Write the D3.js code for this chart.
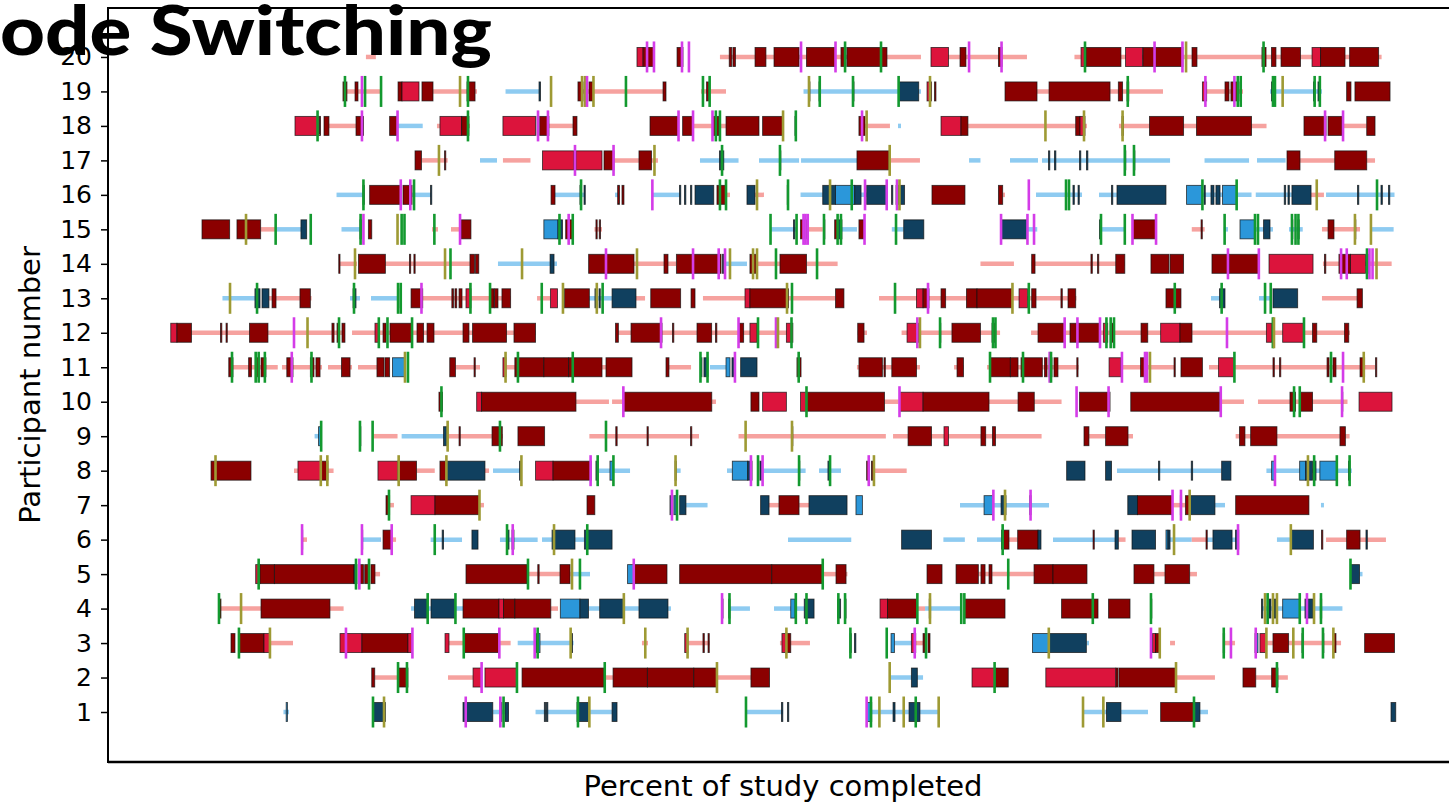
<!DOCTYPE html>
<html>
<head>
<meta charset="utf-8">
<script src="https://cdn.jsdelivr.net/npm/d3@7"></script>
<style>
  body { margin: 0; background: #fff; }
  svg { display: block; font-family: "DejaVu Sans", sans-serif; }
</style>
</head>
<body>
<svg id="chart" width="1449" height="804"></svg>
<script>
// ---- participants / axis text ----
const participants = d3.range(1, 21);
const tickLabels = participants.map(String);
const titleText = "ode Switching";
const xLabel = "Percent of study completed";
const yLabel = "Participant number";

// ---- colour keys ----
const trailColor = { r: "#f6a29f", b: "#8ecbf1" };
const blockColor = { R: "#8b0000", C: "#dc143c", N: "#10405f", S: "#2b97da" };
const markerColor = { g: "#13992f", o: "#9e9a34", m: "#d43ce8" };

// ---- travel trails: [participant, start %, end %, mode] ----
const trails = [
  [1,9.15,9.6,"b"],[1,26.03,27.3,"b"],[1,29.48,35.65,"b"],[1,46.45,49.44,"b"],[1,56.59,61.94,"b"],[1,73.63,78.87,"b"],[1,82.58,83.71,"b"],
  [2,16.51,18.39,"r"],[2,22.42,24.44,"r"],[2,35.0,35.73,"r"],[2,44.11,46.85,"r"],[2,58.04,60.73,"b"],[2,81.13,84.27,"r"],[2,87.56,90.15,"r"],
  [3,8.06,9.92,"r"],[3,22.5,23.69,"r"],[3,26.53,27.47,"r"],[3,28.04,32.55,"b"],[3,38.06,38.55,"r"],[3,41.77,43.52,"r"],[3,49.19,51.61,"r"],[3,58.42,59.84,"b"],[3,60.14,60.73,"r"],[3,73.9,74.11,"b"],[3,80.65,81.05,"r"],[3,84.98,85.89,"r"],[3,88.42,94.44,"r"],
  [4,4.07,7.34,"r"],[4,12.9,14.0,"r"],[4,19.44,23.63,"b"],[4,30.71,31.29,"r"],[4,33.75,37.82,"b"],[4,40.16,40.4,"b"],[4,45.12,46.77,"b"],[4,48.71,51.15,"b"],[4,60.27,60.89,"r"],[4,60.89,63.79,"b"],[4,88.06,94.55,"b"],
  [5,16.53,16.94,"r"],[5,28.79,32.31,"r"],[5,32.42,33.87,"b"],[5,52.64,54.63,"r"],[5,65.19,69.68,"r"],[5,79.35,80.24,"r"],[5,82.23,82.82,"r"],[5,95.93,96.17,"b"],
  [6,10.65,11.05,"r"],[6,15.48,17.02,"b"],[6,17.88,18.23,"r"],[6,21.02,23.55,"b"],[6,26.61,29.65,"b"],[6,30.0,30.81,"b"],[6,32.66,33.42,"b"],[6,49.84,54.94,"b"],[6,62.37,64.1,"b"],[6,65.08,67.1,"b"],[6,67.66,68.36,"r"],[6,71.21,76.37,"b"],[6,76.48,77.06,"r"],[6,80.48,82.4,"b"],[6,82.4,83.6,"r"],[6,83.6,86.19,"b"],[6,89.27,90.32,"b"],[6,93.23,98.06,"r"],
  [7,17.71,18.06,"r"],[7,24.96,25.32,"r"],[7,41.61,43.35,"b"],[7,48.31,49.11,"r"],[7,50.73,51.53,"r"],[7,63.71,70.89,"b"],[7,80.85,81.89,"r"],[7,84.27,85.08,"b"],[7,92.82,93.06,"b"],
  [8,10.0,13.19,"r"],[8,19.88,21.35,"r"],[8,25.4,25.73,"r"],[8,26.05,28.23,"b"],[8,34.56,37.1,"b"],[8,40.77,41.18,"b"],[8,44.92,45.35,"b"],[8,47.58,51.26,"b"],[8,52.34,54.11,"b"],[8,56.69,59.41,"r"],[8,76.37,84.81,"b"],[8,88.42,95.31,"b"],
  [9,11.66,12.16,"b"],[9,16.34,18.35,"r"],[9,18.68,22.18,"b"],[9,22.39,26.85,"r"],[9,33.82,42.66,"r"],[9,45.85,57.73,"r"],[9,58.31,70.29,"r"],[9,74.11,77.66,"r"],[9,85.94,95.13,"r"],
  [10,32.74,35.4,"r"],[10,35.65,36.53,"r"],[10,43.69,44.03,"r"],[10,57.62,58.76,"r"],[10,66.05,71.9,"r"],[10,84.64,86.61,"r"],[10,87.74,94.96,"r"],
  [11,5.08,8.69,"r"],[11,9.03,12.26,"r"],[11,12.74,14.68,"r"],[11,15.16,17.26,"r"],[11,23.02,25.0,"r"],[11,26.94,37.26,"r"],[11,40.24,42.02,"r"],[11,43.55,45.0,"b"],[11,55.4,60.48,"r"],[11,63.23,63.99,"r"],[11,65.89,73.28,"r"],[11,75.73,81.02,"r"],[11,83.79,97.18,"r"],
  [12,0.56,14.11,"r"],[12,14.68,29.48,"r"],[12,36.13,50.23,"r"],[12,55.46,56.21,"r"],[12,59.0,66.94,"r"],[12,69.44,95.16,"r"],
  [13,4.23,6.85,"b"],[13,7.98,11.42,"r"],[13,14.52,15.32,"b"],[13,16.21,18.44,"b"],[13,20.38,27.47,"r"],[13,29.6,30.65,"r"],[13,33.79,35.65,"b"],[13,37.58,38.31,"r"],[13,42.98,53.67,"r"],[13,57.18,73.1,"r"],[13,83.95,84.81,"b"],[13,87.82,88.79,"b"],[13,92.9,95.81,"r"],
  [14,13.63,15.08,"r"],[14,17.34,24.19,"r"],[14,26.45,31.21,"b"],[14,37.42,40.81,"r"],[14,44.84,46.53,"b"],[14,47.26,49.19,"r"],[14,51.33,53.84,"r"],[14,65.36,68.06,"r"],[14,69.49,77.0,"r"],[14,92.98,98.52,"r"],
  [15,7.31,8.52,"r"],[15,8.52,10.92,"b"],[15,13.83,15.44,"b"],[15,21.13,21.61,"r"],[15,22.66,23.47,"r"],[15,34.23,34.84,"r"],[15,48.43,50.56,"b"],[15,51.33,52.64,"r"],[15,54.19,55.4,"b"],[15,58.21,59.17,"b"],[15,69.15,69.94,"b"],[15,75.0,77.06,"b"],[15,82.4,83.44,"r"],[15,84.98,85.32,"b"],[15,87.5,88.95,"b"],[15,90.24,91.35,"b"],[15,92.9,95.97,"r"],[15,96.85,98.68,"b"],
  [16,13.43,15.6,"b"],[16,19.52,21.05,"b"],[16,31.05,33.47,"b"],[16,35.89,36.13,"b"],[16,38.87,41.18,"b"],[16,44.84,45.16,"r"],[16,47.18,47.9,"r"],[16,50.85,57.5,"b"],[16,67.15,67.34,"r"],[16,69.84,73.55,"b"],[16,74.92,76.37,"b"],[16,82.9,87.22,"b"],[16,87.56,90.48,"b"],[16,92.02,93.06,"r"],[16,93.23,98.75,"b"],
  [17,20.28,22.39,"r"],[17,25.0,26.37,"b"],[17,26.85,29.07,"r"],[17,35.81,39.35,"r"],[17,42.74,45.85,"b"],[17,47.5,50.73,"b"],[17,50.89,55.4,"b"],[17,57.98,60.48,"r"],[17,64.44,65.36,"b"],[17,67.74,70.0,"b"],[17,70.32,80.65,"b"],[17,83.43,87.02,"b"],[17,87.66,89.97,"b"],[17,91.13,97.18,"r"],
  [18,12.82,15.0,"r"],[18,18.35,20.38,"b"],[18,21.53,24.19,"r"],[18,30.56,32.82,"r"],[18,42.2,44.84,"r"],[18,56.05,58.06,"r"],[18,58.71,58.95,"b"],[18,64.35,73.95,"r"],[18,76.53,88.43,"r"],[18,94.52,96.51,"r"],
  [19,14.27,16.94,"r"],[19,21.21,24.76,"r"],[19,27.06,29.81,"b"],[19,32.9,39.84,"r"],[19,42.82,44.84,"r"],[19,51.09,60.56,"b"],[19,69.92,80.08,"r"],[19,83.47,86.53,"r"],[19,88.71,92.9,"b"],
  [20,15.8,16.6,"r"],[20,44.35,60.56,"r"],[20,61.37,69.11,"r"],[20,72.94,97.71,"r"]
];

// ---- activity blocks: [participant, start %, end %, kind] ----
const blocks = [
  [1,9.37,9.47,"S"],[1,16.37,17.37,"N"],[1,23.63,26.03,"N"],[1,26.61,26.77,"N"],[1,27.02,27.3,"N"],[1,30.19,30.29,"N"],[1,30.36,30.47,"N"],[1,32.82,33.82,"N"],[1,35.65,36.05,"N"],[1,49.31,49.42,"N"],[1,49.8,49.9,"N"],[1,56.18,56.59,"S"],[1,58.31,58.47,"N"],[1,59.6,60.48,"N"],[1,75.52,76.69,"N"],[1,79.89,82.58,"R"],[1,82.58,83.06,"N"],[1,98.47,98.85,"N"],
  [2,16.27,16.51,"R"],[2,18.39,19.19,"R"],[2,24.44,25.13,"C"],[2,25.4,27.98,"C"],[2,28.39,35.0,"R"],[2,35.73,38.5,"R"],[2,38.5,42.24,"R"],[2,42.24,44.11,"R"],[2,46.85,48.35,"R"],[2,59.79,60.27,"N"],[2,64.68,66.57,"C"],[2,66.57,67.6,"R"],[2,70.63,76.27,"C"],[2,76.29,76.45,"R"],[2,76.53,81.13,"R"],[2,86.53,87.56,"R"],[2,88.84,89.35,"R"],
  [3,4.92,5.24,"R"],[3,5.56,7.58,"R"],[3,7.58,8.06,"C"],[3,13.71,15.48,"C"],[3,15.48,19.19,"R"],[3,19.19,19.52,"C"],[3,22.18,22.5,"C"],[3,23.69,26.53,"R"],[3,29.41,29.56,"N"],[3,29.68,29.84,"S"],[3,32.3,32.46,"N"],[3,41.51,41.77,"C"],[3,42.98,43.09,"R"],[3,43.39,43.49,"R"],[3,49.35,49.68,"C"],[3,49.68,50.06,"R"],[3,54.84,54.94,"N"],[3,55.2,55.31,"N"],[3,58.15,58.42,"S"],[3,59.79,60.14,"C"],[3,60.73,60.89,"R"],[3,61.13,61.29,"R"],[3,69.56,70.87,"S"],[3,70.87,73.9,"N"],[3,79.23,79.48,"C"],[3,79.48,79.84,"R"],[3,84.94,85.05,"N"],[3,87.5,87.74,"S"],[3,87.9,88.42,"C"],[3,88.95,90.21,"R"],[3,91.29,91.4,"R"],[3,92.94,93.05,"N"],[3,93.79,94.03,"R"],[3,96.34,98.75,"R"],
  [4,4.03,4.11,"R"],[4,7.34,12.9,"R"],[4,19.72,20.77,"N"],[4,21.05,22.96,"N"],[4,23.63,26.53,"R"],[4,26.53,26.9,"C"],[4,26.9,27.81,"R"],[4,27.81,30.71,"R"],[4,31.48,33.06,"S"],[4,33.06,33.75,"N"],[4,34.65,36.66,"N"],[4,37.82,40.16,"N"],[4,44.48,44.6,"N"],[4,45.06,45.16,"N"],[4,50.06,50.4,"S"],[4,51.15,51.94,"N"],[4,53.84,54.08,"N"],[4,54.4,54.52,"N"],[4,57.26,57.86,"C"],[4,57.86,60.27,"R"],[4,61.23,61.34,"N"],[4,64.06,67.34,"R"],[4,71.9,74.84,"R"],[4,75.69,77.42,"R"],[4,79.07,79.18,"N"],[4,88.02,88.13,"N"],[4,88.63,88.79,"N"],[4,89.03,89.19,"N"],[4,89.73,91.1,"S"],[4,91.53,92.18,"N"],[4,92.77,92.88,"N"],
  [5,6.91,7.26,"C"],[5,7.26,8.42,"R"],[5,8.42,14.84,"R"],[5,14.84,15.08,"N"],[5,15.27,15.6,"R"],[5,15.7,16.1,"R"],[5,16.21,16.53,"R"],[5,23.87,28.79,"R"],[5,29.66,29.77,"R"],[5,31.45,32.26,"R"],[5,36.9,37.42,"S"],[5,37.42,40.08,"R"],[5,41.1,48.53,"R"],[5,48.53,52.64,"R"],[5,53.71,54.52,"R"],[5,61.05,62.26,"R"],[5,63.39,65.19,"R"],[5,65.4,65.73,"R"],[5,66.05,66.29,"R"],[5,69.68,71.21,"R"],[5,71.21,73.95,"R"],[5,77.74,79.35,"R"],[5,80.24,82.23,"R"],[5,95.2,95.93,"N"],
  [6,10.6,10.7,"R"],[6,15.44,15.54,"N"],[6,17.18,17.88,"R"],[6,21.95,22.06,"N"],[6,24.35,24.84,"N"],[6,27.14,27.34,"N"],[6,27.58,27.74,"N"],[6,30.81,32.66,"N"],[6,33.42,35.65,"N"],[6,59.0,61.41,"N"],[6,67.06,67.16,"N"],[6,67.15,67.66,"R"],[6,68.36,70.0,"R"],[6,70.0,70.24,"N"],[6,74.44,74.54,"R"],[6,76.21,76.48,"N"],[6,77.58,79.48,"N"],[6,80.32,80.48,"S"],[6,80.48,80.65,"N"],[6,83.55,83.65,"R"],[6,84.11,85.65,"N"],[6,85.93,86.19,"N"],[6,90.39,92.21,"N"],[6,92.86,92.97,"R"],[6,94.89,95.97,"R"],[6,96.45,96.56,"N"],
  [7,17.42,17.71,"R"],[7,19.44,21.37,"C"],[7,21.37,24.96,"R"],[7,33.63,34.26,"R"],[7,40.32,40.56,"N"],[7,40.65,40.81,"S"],[7,41.1,41.61,"N"],[7,47.63,48.31,"N"],[7,49.11,50.73,"R"],[7,51.53,54.6,"N"],[7,55.32,55.84,"S"],[7,65.65,66.4,"S"],[7,67.02,67.42,"N"],[7,69.34,69.44,"N"],[7,77.24,78.02,"N"],[7,78.02,80.85,"R"],[7,81.48,81.58,"N"],[7,81.89,82.3,"R"],[7,82.3,84.27,"N"],[7,85.94,91.85,"R"],
  [8,3.31,6.53,"R"],[8,10.32,12.16,"C"],[8,12.16,12.74,"R"],[8,16.77,18.39,"C"],[8,18.39,19.88,"R"],[8,21.77,22.29,"R"],[8,22.29,25.4,"N"],[8,28.19,28.29,"N"],[8,29.48,30.89,"C"],[8,30.89,33.98,"R"],[8,34.35,34.52,"N"],[8,35.48,35.76,"S"],[8,40.73,40.83,"N"],[8,45.35,46.59,"S"],[8,46.59,46.94,"N"],[8,47.38,47.48,"N"],[8,47.58,47.69,"N"],[8,50.69,50.79,"N"],[8,53.06,53.23,"N"],[8,56.18,56.37,"R"],[8,56.57,56.69,"R"],[8,72.31,73.79,"N"],[8,75.45,75.93,"N"],[8,79.72,79.82,"N"],[8,82.36,82.47,"N"],[8,84.81,85.56,"N"],[8,88.84,89.11,"S"],[8,91.1,91.59,"S"],[8,91.59,92.14,"N"],[8,92.3,92.42,"N"],[8,92.73,94.1,"S"],[8,95.04,95.15,"N"],
  [9,11.98,12.18,"S"],[9,15.28,15.39,"N"],[9,22.06,22.39,"N"],[9,23.31,23.41,"R"],[9,25.97,26.8,"R"],[9,28.06,30.21,"R"],[9,35.95,36.06,"R"],[9,38.47,38.57,"R"],[9,41.98,42.08,"R"],[9,50.12,50.23,"R"],[9,59.52,61.41,"R"],[9,62.42,62.78,"C"],[9,65.4,65.78,"R"],[9,66.33,66.57,"R"],[9,73.71,74.11,"R"],[9,75.45,77.26,"R"],[9,86.25,86.69,"R"],[9,87.15,89.27,"R"],[9,94.35,94.79,"R"],
  [10,21.69,21.98,"R"],[10,24.73,25.13,"C"],[10,25.13,32.74,"R"],[10,36.56,43.69,"R"],[10,46.85,47.5,"R"],[10,47.79,49.71,"C"],[10,50.85,51.33,"C"],[10,51.33,57.62,"R"],[10,58.83,60.73,"C"],[10,60.73,66.05,"R"],[10,68.39,69.7,"R"],[10,73.35,75.81,"R"],[10,77.48,84.64,"R"],[10,90.32,90.77,"R"],[10,91.1,92.14,"R"],[10,94.48,94.58,"R"],[10,95.89,98.55,"C"],
  [11,4.74,5.08,"R"],[11,6.34,6.57,"R"],[11,6.91,7.18,"R"],[11,7.34,7.74,"R"],[11,9.42,9.92,"R"],[11,11.32,11.61,"R"],[11,11.77,12.1,"R"],[11,13.83,14.52,"R"],[11,16.69,17.26,"R"],[11,17.34,17.71,"R"],[11,17.94,18.95,"S"],[11,22.56,23.02,"R"],[11,24.52,24.62,"R"],[11,26.85,27.1,"C"],[11,27.81,30.15,"R"],[11,30.15,32.15,"R"],[11,32.15,34.84,"R"],[11,35.16,37.26,"R"],[11,40.0,40.24,"R"],[11,42.78,42.9,"N"],[11,43.06,43.39,"N"],[11,44.84,45.16,"S"],[11,45.32,45.48,"N"],[11,46.02,47.34,"N"],[11,50.56,50.89,"R"],[11,55.56,57.45,"R"],[11,57.58,57.69,"R"],[11,58.21,60.2,"R"],[11,63.47,63.99,"R"],[11,66.13,67.77,"R"],[11,67.77,68.39,"R"],[11,68.63,70.35,"R"],[11,70.52,70.73,"R"],[11,70.89,71.13,"R"],[11,71.29,71.61,"R"],[11,73.13,73.23,"R"],[11,75.73,76.69,"C"],[11,78.27,78.79,"R"],[11,80.97,81.07,"R"],[11,81.53,83.26,"R"],[11,84.56,85.84,"C"],[11,88.95,89.06,"R"],[11,89.48,89.58,"R"],[11,93.31,93.47,"R"],[11,93.79,94.03,"R"],[11,95.97,96.34,"R"],[11,97.22,97.32,"R"],
  [12,0.06,0.56,"C"],[12,0.56,1.73,"R"],[12,4.07,4.18,"R"],[12,4.52,4.62,"R"],[12,6.41,7.9,"R"],[12,13.06,13.23,"R"],[12,13.47,13.63,"R"],[12,13.87,14.11,"R"],[12,16.53,16.85,"C"],[12,17.18,17.42,"R"],[12,17.74,19.52,"R"],[12,19.92,20.45,"R"],[12,20.73,21.29,"R"],[12,23.63,24.11,"R"],[12,24.4,27.14,"R"],[12,27.74,29.48,"R"],[12,35.93,36.16,"R"],[12,37.18,39.68,"R"],[12,40.52,40.63,"R"],[12,42.5,43.68,"R"],[12,43.99,44.1,"R"],[12,45.92,46.26,"R"],[12,46.77,47.34,"C"],[12,49.71,50.23,"C"],[12,55.46,55.97,"R"],[12,59.44,60.2,"C"],[12,60.2,60.48,"R"],[12,62.06,62.16,"R"],[12,63.06,65.36,"R"],[12,66.29,66.57,"R"],[12,70.0,72.15,"R"],[12,72.58,73.18,"R"],[12,73.18,75.0,"R"],[12,75.27,75.62,"C"],[12,75.97,76.07,"R"],[12,78.31,78.85,"R"],[12,79.89,81.45,"C"],[12,81.45,82.42,"R"],[12,88.42,88.87,"C"],[12,89.73,91.42,"C"],[12,92.14,92.48,"R"],[12,94.72,95.06,"R"],
  [13,6.85,7.26,"N"],[13,7.42,7.98,"N"],[13,8.23,8.55,"R"],[13,10.48,11.32,"R"],[13,14.76,15.0,"N"],[13,18.35,18.45,"N"],[13,19.44,20.38,"R"],[13,22.73,22.86,"R"],[13,22.98,23.12,"R"],[13,23.31,23.55,"R"],[13,23.87,24.27,"C"],[13,25.81,26.13,"R"],[13,26.17,26.45,"R"],[13,26.77,27.47,"R"],[13,30.68,31.25,"C"],[13,31.81,33.82,"R"],[13,34.27,34.38,"N"],[13,34.6,34.7,"N"],[13,35.65,37.58,"N"],[13,38.77,41.18,"R"],[13,42.02,42.34,"R"],[13,46.37,46.77,"C"],[13,46.77,49.88,"R"],[13,53.67,54.35,"R"],[13,60.2,60.73,"C"],[13,60.73,61.21,"R"],[13,62.18,62.55,"R"],[13,64.23,65.08,"R"],[13,65.08,67.94,"R"],[13,68.47,69.15,"C"],[13,69.49,69.84,"R"],[13,71.85,71.96,"R"],[13,72.42,73.04,"R"],[13,80.32,81.53,"R"],[13,84.64,85.08,"N"],[13,88.95,90.94,"N"],[13,95.73,96.16,"R"],
  [14,13.61,13.71,"R"],[14,15.2,17.37,"R"],[14,19.31,19.41,"R"],[14,19.67,19.77,"R"],[14,24.19,24.56,"R"],[14,24.63,24.9,"R"],[14,30.65,30.97,"N"],[14,33.76,37.42,"R"],[14,39.84,40.16,"R"],[14,40.84,44.44,"R"],[14,44.56,44.66,"N"],[14,46.77,47.26,"R"],[14,49.19,51.33,"R"],[14,69.49,69.76,"R"],[14,74.27,74.38,"R"],[14,74.8,74.9,"R"],[14,76.27,77.0,"R"],[14,79.11,80.56,"R"],[14,80.65,81.74,"R"],[14,84.03,85.4,"R"],[14,85.4,87.82,"R"],[14,88.63,92.18,"C"],[14,93.1,93.21,"R"],[14,94.27,95.2,"R"],[14,95.2,96.41,"C"],[14,96.57,96.68,"N"],
  [15,2.58,4.81,"R"],[15,5.4,7.31,"R"],[15,10.56,11.02,"N"],[15,15.32,15.43,"N"],[15,16.0,16.27,"R"],[15,23.47,24.27,"R"],[15,30.15,31.29,"S"],[15,31.29,31.65,"N"],[15,31.91,32.48,"R"],[15,34.35,34.45,"R"],[15,34.62,34.72,"R"],[15,50.28,50.39,"N"],[15,50.85,51.33,"R"],[15,52.7,52.81,"N"],[15,53.6,53.84,"R"],[15,53.84,54.19,"N"],[15,55.56,55.97,"R"],[15,59.17,60.79,"N"],[15,67.02,69.15,"N"],[15,74.96,75.06,"N"],[15,77.62,79.48,"R"],[15,83.15,83.25,"R"],[15,86.29,87.5,"S"],[15,88.19,88.71,"N"],[15,90.44,90.55,"N"],[15,90.95,91.06,"N"],[15,93.39,93.87,"R"],[15,95.52,95.63,"R"],
  [16,15.56,15.67,"N"],[16,16.1,18.61,"R"],[16,18.79,19.52,"R"],[16,21.01,21.11,"N"],[16,30.73,31.05,"R"],[16,33.06,33.17,"N"],[16,33.39,33.49,"N"],[16,36.1,36.25,"R"],[16,36.45,36.61,"R"],[16,41.09,41.19,"N"],[16,41.49,41.6,"N"],[16,41.98,42.08,"N"],[16,42.34,43.85,"N"],[16,44.11,44.84,"R"],[16,46.53,47.18,"N"],[16,49.78,49.88,"N"],[16,52.64,53.67,"N"],[16,53.67,55.22,"S"],[16,55.22,55.73,"N"],[16,56.18,57.8,"N"],[16,58.19,58.29,"N"],[16,58.55,59.24,"N"],[16,61.45,64.11,"R"],[16,66.81,67.15,"R"],[16,72.82,72.93,"N"],[16,73.23,73.33,"N"],[16,75.93,76.03,"N"],[16,76.37,80.32,"N"],[16,81.98,83.26,"S"],[16,83.39,83.49,"N"],[16,83.95,84.19,"N"],[16,84.35,84.68,"N"],[16,84.88,86.02,"S"],[16,89.86,89.97,"N"],[16,90.16,90.27,"N"],[16,90.48,92.02,"N"],[16,95.77,95.87,"N"],[16,97.66,97.77,"N"],[16,98.27,98.37,"N"],
  [17,19.76,20.28,"R"],[17,22.14,22.24,"R"],[17,30.04,32.58,"C"],[17,32.74,34.84,"C"],[17,35.0,35.81,"R"],[17,37.82,38.83,"R"],[17,44.31,44.42,"N"],[17,44.56,44.66,"N"],[17,49.15,49.26,"N"],[17,55.4,57.98,"R"],[17,70.85,70.95,"N"],[17,71.33,71.44,"N"],[17,73.35,73.45,"N"],[17,73.91,74.02,"N"],[17,76.98,77.08,"N"],[17,77.7,77.81,"N"],[17,90.08,91.13,"R"],[17,93.93,96.51,"R"],
  [18,10.08,12.02,"C"],[18,12.06,12.14,"R"],[18,12.42,12.82,"R"],[18,15.0,15.6,"R"],[18,17.71,18.35,"R"],[18,21.77,23.52,"C"],[18,23.52,24.11,"R"],[18,26.85,29.48,"C"],[18,29.6,29.72,"R"],[18,29.81,30.56,"R"],[18,32.5,32.82,"R"],[18,38.71,41.01,"R"],[18,41.34,42.18,"R"],[18,43.79,44.27,"R"],[18,44.84,47.5,"R"],[18,47.79,49.44,"R"],[18,50.4,50.48,"N"],[18,55.56,56.05,"R"],[18,62.18,63.79,"C"],[18,63.79,64.35,"R"],[18,73.04,73.39,"R"],[18,73.39,73.79,"C"],[18,76.77,76.9,"R"],[18,78.99,81.74,"R"],[18,82.78,87.22,"R"],[18,91.45,93.23,"R"],[18,93.39,94.52,"R"],[18,96.51,97.18,"R"],
  [19,13.95,14.27,"R"],[19,14.92,15.16,"R"],[19,18.39,18.71,"R"],[19,18.71,20.08,"C"],[19,20.32,21.21,"R"],[19,23.95,24.6,"R"],[19,29.76,29.88,"N"],[19,32.9,33.31,"R"],[19,33.79,34.15,"R"],[19,39.76,40.0,"R"],[19,43.27,43.43,"R"],[19,51.49,51.61,"N"],[19,52.34,52.46,"N"],[19,55.04,55.16,"N"],[19,58.83,60.38,"N"],[19,61.05,61.41,"C"],[19,61.65,61.77,"R"],[19,67.34,69.92,"R"],[19,70.89,75.81,"R"],[19,76.48,76.82,"R"],[19,77.18,77.32,"R"],[19,83.26,83.6,"C"],[19,85.08,85.4,"R"],[19,85.56,86.21,"R"],[19,88.83,88.95,"N"],[19,92.22,92.34,"N"],[19,92.58,92.7,"N"],[19,94.89,95.24,"R"],[19,95.56,98.39,"R"],
  [20,37.66,38.15,"C"],[20,38.15,39.03,"R"],[20,40.89,41.37,"R"],[20,45.1,45.3,"R"],[20,45.4,45.6,"R"],[20,47.18,48.06,"R"],[20,48.71,50.73,"R"],[20,51.33,53.67,"R"],[20,54.11,54.52,"R"],[20,54.6,57.82,"R"],[20,61.37,62.78,"C"],[20,63.71,64.19,"R"],[20,66.81,67.1,"R"],[20,73.47,73.87,"C"],[20,73.87,76.69,"R"],[20,77.06,78.44,"C"],[20,78.47,79.48,"R"],[20,79.48,81.69,"R"],[20,82.42,82.82,"R"],[20,88.06,88.39,"R"],[20,88.83,89.19,"R"],[20,89.6,91.17,"R"],[20,92.1,92.79,"C"],[20,92.79,94.76,"R"],[20,95.13,97.47,"R"]
];

// ---- switch markers: [participant, position %, kind] ----
const markers = [
  [1,16.37,"g"],[1,17.26,"o"],[1,23.85,"m"],[1,26.64,"m"],[1,26.9,"g"],[1,32.9,"g"],[1,33.82,"o"],[1,46.45,"g"],[1,56.18,"m"],[1,56.53,"g"],[1,57.21,"o"],[1,59.17,"o"],[1,60.14,"g"],[1,61.99,"o"],[1,73.63,"o"],[1,75.27,"o"],[1,82.58,"g"],
  [2,18.39,"g"],[2,19.11,"g"],[2,25.13,"m"],[2,27.98,"g"],[2,35.06,"g"],[2,44.11,"o"],[2,58.04,"o"],[2,66.5,"g"],[2,81.13,"o"],[2,89.27,"g"],
  [3,5.56,"g"],[3,8.06,"o"],[3,14.19,"m"],[3,19.55,"m"],[3,23.69,"g"],[3,26.56,"m"],[3,29.41,"m"],[3,29.65,"g"],[3,32.31,"o"],[3,38.33,"o"],[3,41.74,"o"],[3,49.71,"o"],[3,54.87,"g"],[3,57.8,"g"],[3,60.06,"m"],[3,60.97,"g"],[3,70.87,"o"],[3,79.11,"m"],[3,79.82,"o"],[3,84.98,"g"],[3,85.56,"m"],[3,87.56,"m"],[3,88.42,"o"],[3,90.59,"o"],[3,91.35,"g"],[3,92.98,"g"],[3,93.82,"o"],
  [4,3.95,"g"],[4,5.73,"o"],[4,20.78,"g"],[4,23.02,"g"],[4,36.6,"o"],[4,44.52,"m"],[4,45.12,"g"],[4,50.47,"g"],[4,51.33,"g"],[4,53.9,"g"],[4,54.44,"g"],[4,60.27,"g"],[4,61.29,"o"],[4,63.81,"g"],[4,64.06,"g"],[4,74.42,"g"],[4,79.11,"g"],[4,88.31,"o"],[4,88.52,"g"],[4,88.95,"o"],[4,89.27,"o"],[4,91.11,"g"],[4,91.69,"m"],[4,92.26,"o"],[4,92.82,"g"],
  [5,7.15,"g"],[5,15.0,"g"],[5,15.27,"m"],[5,16.05,"g"],[5,28.87,"g"],[5,32.42,"o"],[5,33.06,"g"],[5,37.4,"m"],[5,52.64,"g"],[5,67.6,"g"],[5,95.2,"g"],
  [6,10.65,"m"],[6,15.48,"m"],[6,17.88,"m"],[6,21.35,"g"],[6,27.18,"g"],[6,27.64,"m"],[6,30.97,"o"],[6,33.65,"g"],[6,67.15,"g"],[6,80.97,"o"],[6,86.13,"m"],[6,90.39,"o"],
  [7,17.66,"g"],[7,24.96,"o"],[7,40.48,"m"],[7,40.89,"g"],[7,66.4,"m"],[7,67.34,"o"],[7,69.4,"m"],[7,80.85,"m"],[7,81.53,"m"],[7,82.23,"o"],
  [8,3.67,"o"],[8,12.16,"o"],[8,12.69,"o"],[8,18.44,"o"],[8,22.29,"o"],[8,28.34,"o"],[8,33.92,"m"],[8,34.49,"g"],[8,35.76,"g"],[8,40.77,"o"],[8,46.85,"m"],[8,47.42,"g"],[8,47.79,"m"],[8,50.73,"g"],[8,53.23,"g"],[8,56.35,"m"],[8,56.77,"o"],[8,89.11,"m"],[8,91.77,"o"],[8,92.27,"g"],[8,94.1,"g"],[8,95.13,"g"],
  [9,12.19,"g"],[9,15.32,"g"],[9,16.34,"g"],[9,22.39,"o"],[9,26.61,"g"],[9,35.16,"g"],[9,46.42,"o"],[9,50.16,"o"],
  [10,21.89,"g"],[10,36.56,"m"],[10,51.33,"g"],[10,58.83,"m"],[10,73.11,"m"],[10,75.69,"m"],[10,84.74,"m"],[10,90.65,"g"],[10,91.11,"g"],[10,94.52,"m"],
  [11,5.0,"g"],[11,6.91,"g"],[11,7.15,"g"],[11,7.65,"g"],[11,9.82,"m"],[11,11.41,"g"],[11,18.95,"o"],[11,19.19,"g"],[11,27.06,"o"],[11,28.06,"g"],[11,32.48,"g"],[11,42.78,"g"],[11,43.35,"g"],[11,45.56,"m"],[11,50.7,"g"],[11,66.13,"g"],[11,68.79,"g"],[11,70.94,"m"],[11,71.05,"g"],[11,76.77,"m"],[11,78.63,"m"],[11,78.79,"m"],[11,79.03,"o"],[11,85.84,"g"],[11,93.63,"g"],[11,94.6,"m"],[11,96.27,"o"],
  [12,10.0,"m"],[12,11.09,"o"],[12,13.63,"g"],[12,16.84,"g"],[12,17.54,"g"],[12,19.52,"g"],[12,39.6,"m"],[12,45.85,"m"],[12,47.42,"g"],[12,48.87,"m"],[12,49.03,"o"],[12,50.12,"g"],[12,60.27,"m"],[12,60.48,"o"],[12,62.1,"g"],[12,66.37,"g"],[12,66.57,"g"],[12,72.15,"m"],[12,73.18,"m"],[12,75.0,"m"],[12,75.52,"g"],[12,75.86,"g"],[12,76.13,"g"],[12,85.24,"m"],[12,88.94,"g"],[12,89.03,"o"],[12,91.45,"g"],
  [13,4.84,"o"],[13,7.02,"g"],[13,14.84,"g"],[13,18.39,"g"],[13,18.61,"g"],[13,20.28,"m"],[13,24.23,"g"],[13,25.81,"g"],[13,29.98,"g"],[13,31.69,"o"],[13,34.42,"o"],[13,34.89,"g"],[13,49.76,"o"],[13,50.16,"g"],[13,58.47,"g"],[13,61.13,"m"],[13,67.94,"o"],[13,69.26,"g"],[13,81.03,"g"],[13,84.81,"g"],[13,88.31,"g"],[13,88.77,"g"],
  [14,14.92,"o"],[14,22.18,"o"],[14,22.62,"g"],[14,28.39,"o"],[14,35.16,"m"],[14,37.66,"o"],[14,42.18,"m"],[14,44.25,"m"],[14,44.76,"m"],[14,45.16,"o"],[14,47.02,"o"],[14,47.34,"o"],[14,48.87,"g"],[14,52.18,"g"],[14,85.32,"m"],[14,87.81,"m"],[14,94.44,"m"],[14,94.9,"m"],[14,96.53,"g"],[14,96.73,"m"],[14,96.98,"m"],[14,97.3,"o"],
  [15,6.13,"o"],[15,8.52,"g"],[15,11.35,"g"],[15,15.37,"g"],[15,15.6,"m"],[15,18.35,"o"],[15,18.68,"g"],[15,18.91,"g"],[15,21.32,"g"],[15,23.39,"m"],[15,31.41,"g"],[15,32.15,"m"],[15,32.48,"g"],[15,48.43,"g"],[15,50.53,"g"],[15,51.09,"m"],[15,51.25,"m"],[15,51.43,"m"],[15,52.74,"g"],[15,53.84,"g"],[15,54.11,"g"],[15,56.01,"m"],[15,58.55,"g"],[15,67.02,"m"],[15,69.15,"m"],[15,69.68,"m"],[15,75.08,"g"],[15,77.0,"g"],[15,77.62,"m"],[15,79.52,"m"],[15,85.05,"g"],[15,87.5,"g"],[15,87.74,"g"],[15,90.48,"g"],[15,90.77,"g"],[15,91.0,"g"],[15,95.56,"o"],[15,96.85,"o"],
  [16,15.6,"g"],[16,18.61,"m"],[16,19.38,"m"],[16,19.68,"g"],[16,33.15,"g"],[16,38.9,"m"],[16,44.35,"g"],[16,44.84,"g"],[16,47.34,"o"],[16,49.84,"g"],[16,53.23,"o"],[16,54.98,"g"],[16,56.05,"m"],[16,57.8,"m"],[16,58.63,"m"],[16,58.83,"o"],[16,69.26,"m"],[16,72.26,"g"],[16,72.5,"g"],[16,83.26,"g"],[16,86.02,"g"],[16,92.48,"o"],[16,97.34,"g"],
  [17,21.69,"o"],[17,32.66,"m"],[17,35.77,"m"],[17,39.07,"o"],[17,44.52,"g"],[17,49.19,"g"],[17,58.04,"o"],[17,77.0,"g"],[17,77.74,"g"],
  [18,11.9,"g"],[18,15.48,"m"],[18,18.35,"m"],[18,24.03,"g"],[18,29.68,"m"],[18,30.48,"m"],[18,41.01,"m"],[18,42.18,"m"],[18,43.75,"m"],[18,44.02,"g"],[18,44.35,"g"],[18,49.44,"o"],[18,50.47,"g"],[18,55.81,"m"],[18,56.18,"o"],[18,70.6,"o"],[18,73.71,"o"],[18,76.82,"o"],[18,93.15,"m"],[18,94.6,"m"],
  [19,14.11,"g"],[19,15.48,"m"],[19,15.73,"g"],[19,17.02,"g"],[19,23.39,"o"],[19,24.03,"g"],[19,30.73,"o"],[19,33.23,"o"],[19,33.47,"o"],[19,33.63,"m"],[19,34.15,"o"],[19,36.77,"g"],[19,42.98,"g"],[19,43.52,"g"],[19,51.53,"o"],[19,52.4,"g"],[19,55.08,"g"],[19,58.76,"g"],[19,61.29,"o"],[19,77.24,"g"],[19,83.5,"m"],[19,85.84,"m"],[19,86.11,"g"],[19,86.35,"g"],[19,88.95,"g"],[19,89.11,"g"],[19,89.73,"o"],[19,92.31,"g"],[19,92.73,"g"],
  [20,38.47,"m"],[20,39.03,"m"],[20,41.29,"m"],[20,41.85,"m"],[20,50.89,"m"],[20,53.67,"m"],[20,54.44,"g"],[20,57.34,"g"],[20,64.44,"m"],[20,67.06,"m"],[20,73.79,"g"],[20,79.4,"m"],[20,81.65,"m"],[20,81.94,"o"],[20,88.19,"g"]
];

// ---- layout ----
const svg = d3.select("#chart");
const plot = { left: 108, right: 1449, top: 8, bottom: 762 };

const x = d3.scaleLinear().domain([0, 100]).range([170, 1410]);
const y = d3.scaleLinear().domain([-0.45, 21.42]).range([plot.bottom, plot.top]);

const blockH = 19;
const markerH = 31;
const markerW = 2.6;

// trails underneath
svg.append("g").selectAll("line").data(trails).join("line")
  .attr("x1", d => x(d[1])).attr("x2", d => x(d[2]))
  .attr("y1", d => y(d[0])).attr("y2", d => y(d[0]))
  .attr("stroke", d => trailColor[d[3]])
  .attr("stroke-width", 4.5);

// activity blocks
svg.append("g").selectAll("rect").data(blocks).join("rect")
  .attr("x", d => x(d[1]))
  .attr("width", d => Math.max(x(d[2]) - x(d[1]), 0.6))
  .attr("y", d => y(d[0]) - blockH / 2)
  .attr("height", blockH)
  .attr("fill", d => blockColor[d[3]])
  .attr("stroke", "#111")
  .attr("stroke-opacity", 0.75)
  .attr("stroke-width", 0.9);

// switch markers on top
svg.append("g").selectAll("rect").data(markers).join("rect")
  .attr("x", d => x(d[1]) - markerW / 2)
  .attr("width", markerW)
  .attr("y", d => y(d[0]) - markerH / 2)
  .attr("height", markerH)
  .attr("fill", d => markerColor[d[2]]);

// frame: left, top and bottom spines
const frame = svg.append("g").attr("stroke", "#000");
frame.append("line").attr("x1", plot.left).attr("x2", plot.left).attr("y1", plot.top - 1).attr("y2", plot.bottom + 1).attr("stroke-width", 2);
frame.append("line").attr("x1", plot.left).attr("x2", plot.right).attr("y1", plot.top).attr("y2", plot.top).attr("stroke-width", 2);
frame.append("line").attr("x1", plot.left).attr("x2", plot.right).attr("y1", plot.bottom).attr("y2", plot.bottom).attr("stroke-width", 2.5);

// y axis ticks and labels
const yAxis = d3.axisLeft(y)
  .tickValues(participants)
  .tickFormat((d, i) => tickLabels[i])
  .tickSize(7)
  .tickPadding(9)
  .tickSizeOuter(0);
const gy = svg.append("g").attr("transform", `translate(${plot.left},0)`).call(yAxis);
gy.select(".domain").remove();
gy.selectAll(".tick line").attr("stroke", "#000").attr("stroke-width", 1.5);
gy.selectAll(".tick text")
  .attr("fill", "#000")
  .style("font-family", "DejaVu Sans, sans-serif")
  .style("font-size", "25px");

// axis titles
svg.append("text")
  .attr("x", 783).attr("y", 796)
  .attr("text-anchor", "middle")
  .style("font-size", "29px")
  .attr("fill", "#000")
  .text(xLabel);

svg.append("text")
  .attr("transform", "translate(40,385) rotate(-90)")
  .attr("text-anchor", "middle")
  .style("font-size", "29px")
  .attr("fill", "#000")
  .text(yLabel);

// heading
svg.append("text")
  .attr("x", 0).attr("y", 55)
  .attr("textLength", 492)
  .attr("lengthAdjust", "spacingAndGlyphs")
  .style("font-family", "Lato, Inter, sans-serif")
  .style("font-weight", 900)
  .style("font-size", "68px")
  .attr("fill", "#000")
  .text(titleText);
</script>
</body>
</html>
